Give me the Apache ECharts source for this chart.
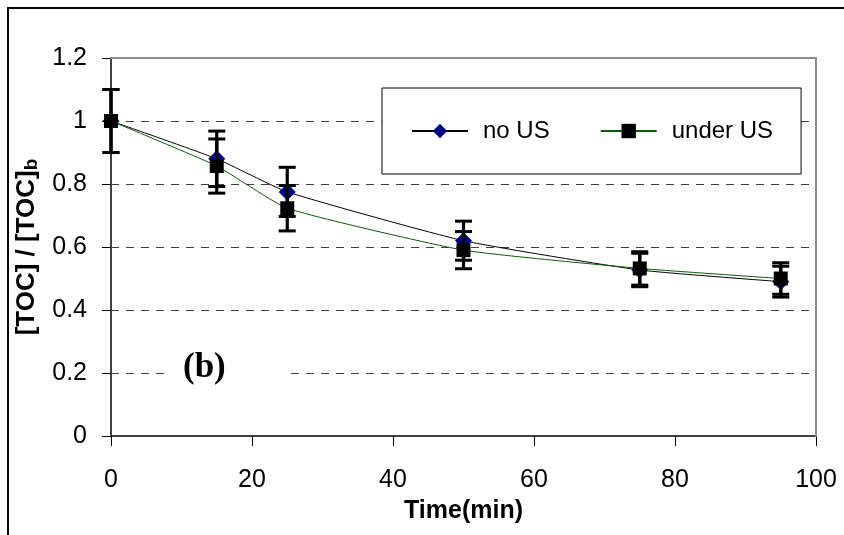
<!DOCTYPE html>
<html>
<head>
<meta charset="utf-8">
<script src="https://cdn.jsdelivr.net/npm/echarts@6/dist/echarts.min.js"></script>
<style>
  html, body { margin: 0; padding: 0; background: #fff; }
  #chart { width: 844px; height: 535px; }
</style>
</head>
<body>
<div id="chart"></div>
<script>
// Sampling times (min)
const times = [0, 15, 25, 50, 75, 95];
// Normalised TOC without ultrasound
const noUs = [1.0, 0.88, 0.775, 0.62, 0.527, 0.49];
const noUsErr = [0.1, 0.088, 0.078, 0.062, 0.053, 0.049];
// Normalised TOC under ultrasound
const underUs = [1.0, 0.857, 0.723, 0.59, 0.532, 0.50];
const underUsErr = [0.1, 0.086, 0.072, 0.059, 0.053, 0.05];
// Axis ranges and tick steps
const xTicks = [0, 20, 40, 60, 80, 100];
const yTicks = [0, 0.2, 0.4, 0.6, 0.8, 1.0, 1.2];
const seriesNames = ['no US', 'under US'];

const FONT = "'Liberation Sans', Arial, sans-serif";

function pairs(xs, ys) { return xs.map((x, i) => [x, ys[i]]); }
function bars(xs, ys, es) { return xs.map((x, i) => [x, ys[i] - es[i], ys[i] + es[i]]); }

function errorBar(params, api) {
  const x = api.value(0);
  const lo = api.coord([x, api.value(1)]);
  const hi = api.coord([x, api.value(2)]);
  const half = 8.5;
  const stem = { stroke: '#000', lineWidth: 3.2 };
  const cap = { stroke: '#000', lineWidth: 3 };
  return {
    type: 'group',
    children: [
      { type: 'line', shape: { x1: hi[0], y1: hi[1], x2: lo[0], y2: lo[1] }, style: stem },
      { type: 'line', shape: { x1: hi[0] - half, y1: hi[1], x2: hi[0] + half, y2: hi[1] }, style: cap },
      { type: 'line', shape: { x1: lo[0] - half, y1: lo[1], x2: lo[0] + half, y2: lo[1] }, style: cap }
    ]
  };
}

const chart = echarts.init(document.getElementById('chart'), null, { renderer: 'canvas' });

chart.setOption({
  animation: false,
  backgroundColor: '#fff',
  textStyle: { fontFamily: FONT },
  grid: { left: 111, right: 28, top: 58, bottom: 99, containLabel: false },
  legend: {
    left: 382,
    top: 88,
    orient: 'horizontal',
    data: seriesNames,
    backgroundColor: '#fff',
    borderColor: '#000',
    borderWidth: 1,
    padding: [31, 28, 31, 29],
    itemWidth: 56,
    itemHeight: 18,
    itemGap: 50,
    selectedMode: false,
    textStyle: { fontFamily: FONT, fontSize: 24, color: '#000', padding: [0, 0, 0, 10], lineHeight: 24 }
  },
  xAxis: [{
    type: 'value',
    min: xTicks[0],
    max: xTicks[xTicks.length - 1],
    interval: xTicks[1] - xTicks[0],
    name: 'Time(min)',
    nameLocation: 'middle',
    nameGap: 63,
    nameTextStyle: { fontFamily: FONT, fontSize: 25, fontWeight: 'bold', color: '#000' },
    axisLine: { show: true, lineStyle: { color: '#404040', width: 2 } },
    axisTick: { show: true, inside: false, length: 10, lineStyle: { color: '#000', width: 1 } },
    axisLabel: { fontFamily: FONT, fontSize: 25, color: '#000', margin: 32 },
    splitLine: { show: false }
  }, {
    type: 'value',
    position: 'top',
    min: xTicks[0],
    max: xTicks[xTicks.length - 1],
    z: 5,
    axisLine: { show: true, onZero: false, lineStyle: { color: '#8c8c8c', width: 2 } },
    axisTick: { show: false },
    axisLabel: { show: false },
    splitLine: { show: false }
  }],
  yAxis: [{
    type: 'value',
    min: yTicks[0],
    max: yTicks[yTicks.length - 1],
    interval: yTicks[1] - yTicks[0],
    name: '[TOC] / [TOC]{sub|b}',
    nameLocation: 'middle',
    nameRotate: 90,
    nameGap: 61,
    nameTextStyle: {
      fontFamily: FONT, fontSize: 26, fontWeight: 'bold', color: '#000', lineHeight: 30,
      rich: { sub: { fontFamily: FONT, fontSize: 19, fontWeight: 'bold', color: '#000', verticalAlign: 'bottom', lineHeight: 30, padding: [6, 0, 0, 0] } }
    },
    axisLine: { show: true, lineStyle: { color: '#404040', width: 2 } },
    axisTick: { show: true, inside: false, length: 9, lineStyle: { color: '#000', width: 1 } },
    axisLabel: { fontFamily: FONT, fontSize: 25, color: '#000', margin: 24 },
    splitLine: { show: true, lineStyle: { color: '#404040', width: 1, type: [8, 7] } }
  }, {
    type: 'value',
    position: 'right',
    min: yTicks[0],
    max: yTicks[yTicks.length - 1],
    z: 5,
    axisLine: { show: true, onZero: false, lineStyle: { color: '#8c8c8c', width: 2 } },
    axisTick: { show: false },
    axisLabel: { show: false },
    splitLine: { show: false }
  }],
  series: [{
    name: seriesNames[0],
    type: 'line',
    data: pairs(times, noUs),
    smooth: 0.15,
    symbol: 'diamond',
    symbolSize: 17,
    z: 2,
    lineStyle: { color: '#000', width: 1 },
    itemStyle: { color: '#000080' },
    emphasis: { disabled: true }
  }, {
    name: 'noUsErr',
    type: 'custom',
    data: bars(times, noUs, noUsErr),
    renderItem: errorBar,
    encode: { x: 0, y: [1, 2] },
    z: 1,
    silent: true
  }, {
    name: seriesNames[1],
    type: 'line',
    data: pairs(times, underUs),
    smooth: 0.15,
    symbol: 'rect',
    symbolSize: 14,
    z: 4,
    lineStyle: { color: '#0a5a0a', width: 1 },
    itemStyle: { color: '#000' },
    emphasis: { disabled: true }
  }, {
    name: 'underUsErr',
    type: 'custom',
    data: bars(times, underUs, underUsErr),
    renderItem: errorBar,
    encode: { x: 0, y: [1, 2] },
    z: 3,
    silent: true
  }],
  graphic: [{
    type: 'rect',
    z: 50,
    shape: { x: 166, y: 361, width: 120, height: 24 },
    style: { fill: '#fff' },
    silent: true
  }, {
    type: 'text',
    z: 51,
    left: 183,
    top: 350,
    style: { text: '(b)', font: "bold 35px 'Liberation Serif', 'Times New Roman', serif", fill: '#000' },
    silent: true
  }, {
    type: 'rect',
    z: 60,
    shape: { x: 8, y: 8, width: 900, height: 600 },
    style: { fill: 'none', stroke: '#000', lineWidth: 2 },
    silent: true
  }]
});
</script>
</body>
</html>
